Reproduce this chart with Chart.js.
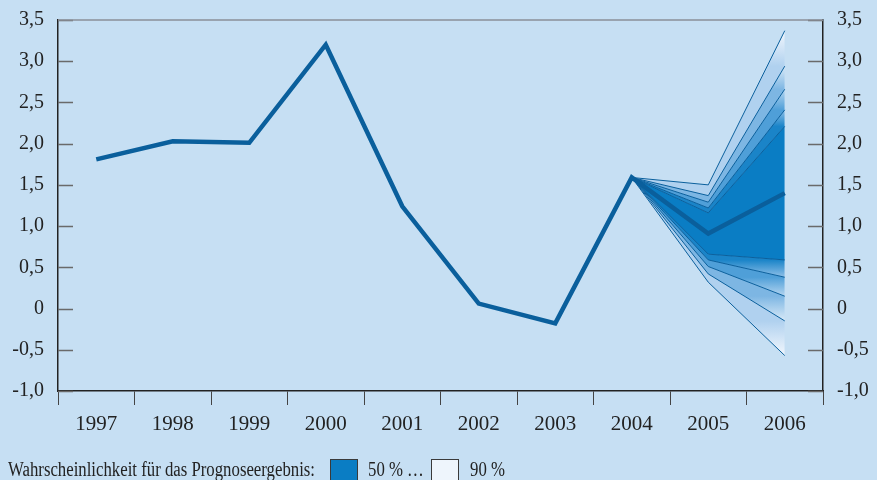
<!DOCTYPE html>
<html>
<head>
<meta charset="utf-8">
<script src="https://cdn.jsdelivr.net/npm/chart.js@4"></script>
<style>
  body { margin: 0; background: #c6dff3; }
  #wrap { position: relative; width: 877px; height: 480px; overflow: hidden; }
  #legend {
    position: absolute; left: 0; top: 459px; width: 877px; height: 30px;
    font-family: "Liberation Serif", "DejaVu Serif", serif; font-size: 20px; line-height: 20px; color: #222;
    white-space: nowrap;
  }
  #legend span { position: absolute; top: 0; transform-origin: 0 0; }
  .box { position: absolute; top: 0; width: 26px; height: 30px; border: 1px solid #3a3a3a; }
</style>
</head>
<body>
<div id="wrap">
  <canvas id="c" width="877" height="480"></canvas>
  <div id="legend">
    <span id="legTitle" style="left:8px">Wahrscheinlichkeit für das Prognoseergebnis:</span>
    <div class="box" style="left:330px;background:#0a7dc4"></div>
    <span style="left:368px">50 % …</span>
    <div class="box" style="left:431px;background:#eef5fc"></div>
    <span style="left:470px">90 %</span>
  </div>
</div>
<script>
const years = ["1997", "1998", "1999", "2000", "2001", "2002", "2003", "2004", "2005", "2006"];
const actual = [1.81, 2.03, 2.01, 3.2, 1.24, 0.06, -0.18, 1.59, 0.91, 1.4];

// fan bounds, only 2004..2006 (start at 2004 value)
const upper50 = [1.59, 1.16, 2.21];
const upper60 = [1.59, 1.22, 2.41];
const upper70 = [1.59, 1.29, 2.66];
const upper80 = [1.59, 1.37, 2.94];
const upper90 = [1.59, 1.50, 3.37];
const lower50 = [1.59, 0.66, 0.59];
const lower60 = [1.59, 0.59, 0.38];
const lower70 = [1.59, 0.51, 0.15];
const lower80 = [1.59, 0.42, -0.15];
const lower90 = [1.59, 0.32, -0.57];

const yTicks = [3.5, 3.0, 2.5, 2.0, 1.5, 1.0, 0.5, 0, -0.5, -1.0];

const lineBlue = "#0a5f9c";
const fontX = { family: "'Liberation Serif', 'DejaVu Serif', serif", size: 21 };
const fontY = { family: "'Liberation Serif', 'DejaVu Serif', serif", size: 20 };

// the print uses a narrower serif: squeeze all legend texts the same way
const legTitle = document.getElementById("legTitle");
const squeeze = 307 / legTitle.getBoundingClientRect().width;
document.querySelectorAll("#legend span").forEach(s => {
  s.style.transform = "scaleX(" + squeeze + ")";
});

function pad(arr) {
  return new Array(7).fill(null).concat(arr);
}

// gradient from outer (light) to inner (dark), measured at 2006
function bandFill(outer, inner, cOuter, cInner) {
  return function (context) {
    const chart = context.chart;
    if (!chart.chartArea) return cInner;
    const y = chart.scales.y;
    const y1 = y.getPixelForValue(outer[2]);
    const y2 = y.getPixelForValue(inner[2]);
    const g = chart.ctx.createLinearGradient(0, y1, 0, y2);
    g.addColorStop(0, cOuter);
    g.addColorStop(1, cInner);
    return g;
  };
}

function band(data, fillTo, bg) {
  return {
    data: pad(data),
    borderColor: lineBlue,
    borderWidth: 1,
    pointRadius: 0,
    tension: 0,
    fill: fillTo,
    backgroundColor: bg
  };
}

const datasets = [
  { data: actual, borderColor: lineBlue, borderWidth: 4.5, pointRadius: 0, tension: 0, fill: false },
  band(lower50, false, "#0a7dc4"),
  band(upper50, 1, "#0a7dc4"),
  band(upper60, 2, bandFill(upper60, upper50, "#8fc0e8", "#1a84c8")),
  band(upper70, 3, bandFill(upper70, upper60, "#b4d5f0", "#4f9fd8")),
  band(upper80, 4, bandFill(upper80, upper70, "#d8e9f7", "#7db6e3")),
  band(upper90, 5, bandFill(upper90, upper80, "#f2f7fd", "#b0d1ef")),
  band(lower60, 1, bandFill(lower60, lower50, "#8fc0e8", "#1a84c8")),
  band(lower70, 7, bandFill(lower70, lower60, "#b4d5f0", "#4f9fd8")),
  band(lower80, 8, bandFill(lower80, lower70, "#d8e9f7", "#7db6e3")),
  band(lower90, 9, bandFill(lower90, lower80, "#f2f7fd", "#b0d1ef"))
];

function fmt(v) {
  if (v === 0) return "0";
  return v.toFixed(1).replace(".", ",");
}

const innerTicks = {
  id: "innerTicks",
  afterDraw(chart) {
    const { ctx, chartArea } = chart;
    const y = chart.scales.y;
    ctx.save();
    ctx.lineWidth = 1.5;
    ctx.strokeStyle = "#6a6a6a";
    yTicks.forEach(v => {
      const py = Math.round(y.getPixelForValue(v)) + 0.5;
      ctx.beginPath();
      ctx.moveTo(chartArea.left, py);
      ctx.lineTo(chartArea.left + 15, py);
      ctx.moveTo(chartArea.right - 15, py);
      ctx.lineTo(chartArea.right, py);
      ctx.stroke();
    });
    ctx.strokeStyle = "#8a8f99";
    ctx.beginPath();
    ctx.moveTo(chartArea.left, chartArea.top);
    ctx.lineTo(chartArea.right, chartArea.top);
    ctx.stroke();
    ctx.restore();
  }
};

// fixed widths, and no extra room for the half label above the top tick
function fitY(w) {
  return function (s) {
    s.width = w;
    s.paddingTop = 0;
    s.paddingBottom = 0;
  };
}

new Chart(document.getElementById("c"), {
  type: "line",
  data: { labels: years, datasets: datasets },
  options: {
    responsive: false,
    animation: false,
    layout: { padding: { top: 20, left: 0, right: 0, bottom: 0 } },
    plugins: { legend: { display: false }, tooltip: { enabled: false } },
    scales: {
      x: {
        offset: true,
        grid: { drawOnChartArea: false, tickLength: 14, color: "#444", offset: true },
        border: { color: "#222", width: 1.5 },
        ticks: { font: fontX, color: "#222", padding: 7 },
        afterFit(s) { s.height = 89; }
      },
      y: {
        min: -1, max: 3.5,
        grid: { drawOnChartArea: false, drawTicks: false },
        border: { color: "#222", width: 1.5 },
        ticks: { stepSize: 0.5, font: fontY, color: "#222", padding: 14, callback: fmt },
        afterFit: fitY(58)
      },
      y2: {
        position: "right",
        min: -1, max: 3.5,
        grid: { drawOnChartArea: false, drawTicks: false },
        border: { color: "#222", width: 1.5 },
        ticks: { stepSize: 0.5, font: fontY, color: "#222", padding: 14, callback: fmt },
        afterFit: fitY(54)
      }
    }
  },
  plugins: [innerTicks]
});
</script>
</body>
</html>
